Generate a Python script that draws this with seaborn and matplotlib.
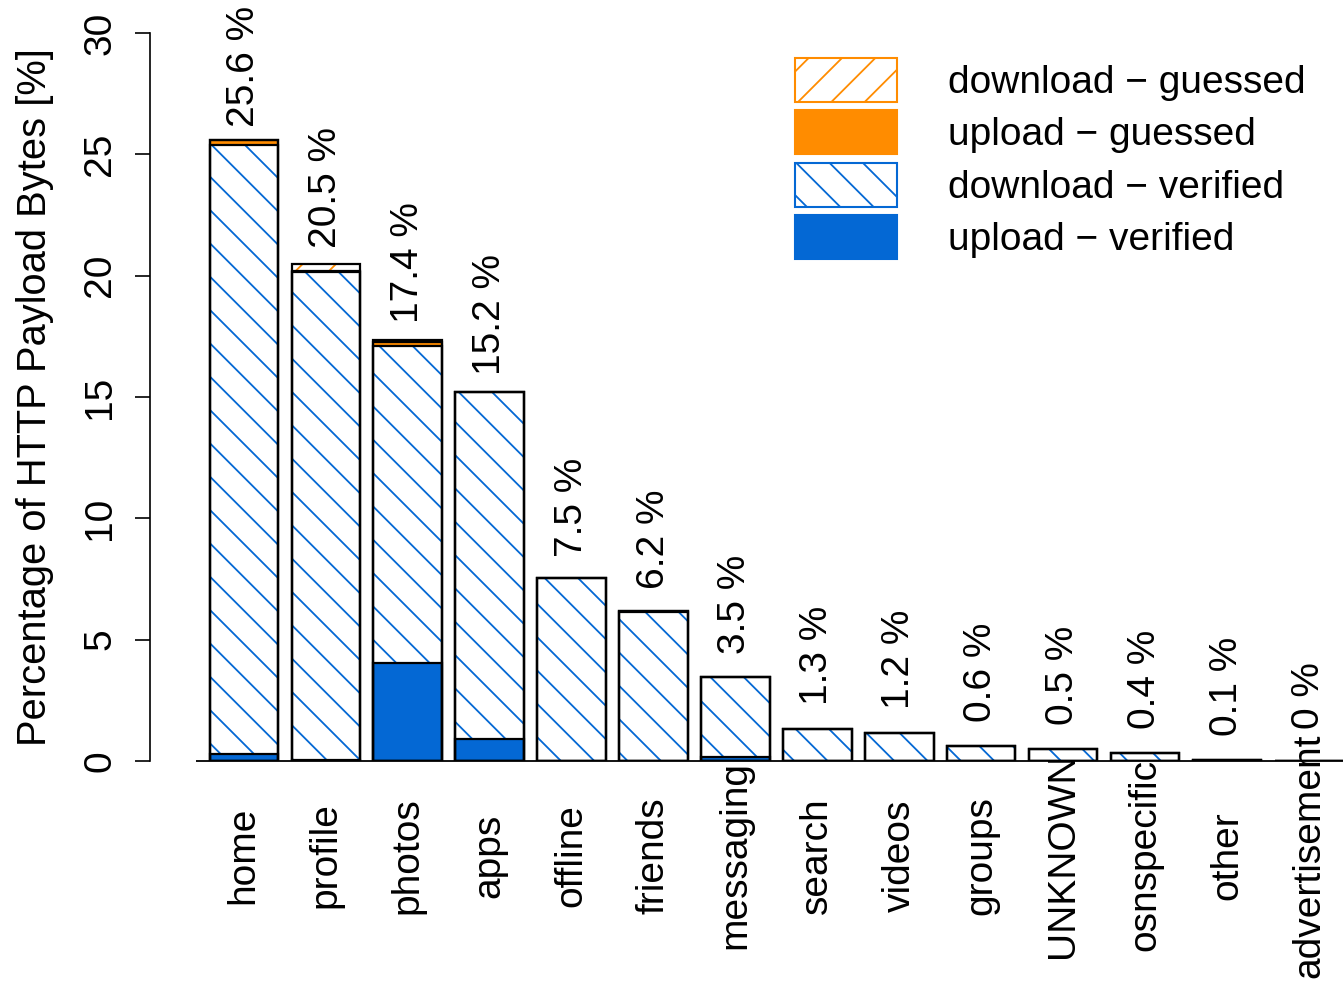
import numpy as np
import pandas as pd
import matplotlib
matplotlib.use("Agg")
import matplotlib.pyplot as plt
import matplotlib.patches as mpatches
import seaborn as sns

# ---------------- data ----------------
categories = ["home", "profile", "photos", "apps", "offline", "friends",
              "messaging", "search", "videos", "groups", "UNKNOWN",
              "osnspecific", "other", "advertisement"]
upload_verified = [0.30, 0.05, 4.05, 0.90, 0.00, 0.00, 0.15, 0.00, 0.00,
                   0.00, 0.00, 0.00, 0.00, 0.00]
download_verified = [25.10, 20.10, 13.05, 14.30, 7.55, 6.15, 3.32, 1.32,
                     1.15, 0.60, 0.49, 0.33, 0.03, 0.00]
upload_guessed = [0.20, 0.05, 0.15, 0.00, 0.00, 0.03, 0.00, 0.00, 0.00,
                  0.03, 0.00, 0.00, 0.00, 0.00]
download_guessed = [0.00, 0.30, 0.10, 0.00, 0.00, 0.00, 0.00, 0.00, 0.00,
                    0.00, 0.00, 0.00, 0.00, 0.00]
total_labels = [25.6, 20.5, 17.4, 15.2, 7.5, 6.2, 3.5, 1.3, 1.2, 0.6, 0.5,
                0.4, 0.1, 0]
legend_labels = ["download \u2212 guessed", "upload \u2212 guessed",
                 "download \u2212 verified", "upload \u2212 verified"]
yticks = [0, 5, 10, 15, 20, 25, 30]
ylabel = "Percentage of HTTP Payload Bytes [%]"

# ---------------- style ----------------
BLUE = "#0468d4"
ORANGE = "#ff8c00"
sns.set_theme(style="white")
plt.rcParams["font.family"] = ["Liberation Sans", "DejaVu Sans"]
plt.rcParams["hatch.linewidth"] = 1.3
plt.rcParams["text.color"] = "black"
FS = 28

c1 = np.array(upload_verified)
c2 = c1 + np.array(download_verified)
c3 = c2 + np.array(upload_guessed)
c4 = c3 + np.array(download_guessed)
df = pd.DataFrame({"cat": categories, "c1": c1, "c2": c2, "c3": c3, "c4": c4})

W, H = 1343, 982
fig = plt.figure(figsize=(W / 100, H / 100), dpi=100)
ax = fig.add_axes([150 / W, (H - 761) / H, 1193 / W, 728 / H])

bw = 1 / 1.2


def layer(col, color, hatch=None, fill=True):
    n0 = len(ax.patches)
    if fill:
        sns.barplot(data=df, x="cat", y=col, order=categories, color=color,
                    saturation=1, width=bw, errorbar=None, linewidth=0, ax=ax)
    else:
        sns.barplot(data=df, x="cat", y=col, order=categories, color="black",
                    fill=False, width=bw, errorbar=None, linewidth=1.6, ax=ax)
    new = ax.patches[n0:]
    for p in new:
        if fill and hatch is not None:
            p.set_facecolor("white")
            p.set_edgecolor(color)
            p.set_hatch(hatch)
            p.set_linewidth(0)
        elif not fill:
            p.set_edgecolor("black")
            p.set_facecolor("none")
            p.set_linewidth(1.6)
    return new


layer("c4", ORANGE, hatch="/")
layer("c3", ORANGE)
layer("c2", BLUE, hatch="\\")
layer("c1", BLUE)
for col in ["c4", "c3", "c2", "c1"]:
    layer(col, "black", fill=False)

# axes limits (R-like barplot geometry)
x_left = (-0.672 - 0.7) / 1.2
x_right = x_left + 1193 / (68.3 * 1.2)
ax.set_xlim(x_left, x_right)
ax.set_ylim(0, 30)

# baseline starting at R x = 0
x0 = (0 - 0.7) / 1.2
ax.hlines(0, x0, x_right + 1, color="black", linewidth=1.3, clip_on=False)

# value labels
for i, (tot, lab) in enumerate(zip(c4, total_labels)):
    off = 1.0 - 0.018 * tot + (0.3 if tot < 0.02 else 0.0)
    ax.text(i, tot + off, f"{lab:g} %", rotation=90, ha="center",
            va="bottom", fontsize=FS, color="black", clip_on=False)

# spines / ticks
for s in ["top", "right", "bottom"]:
    ax.spines[s].set_visible(False)
ax.spines["left"].set_bounds(0, 30)
ax.spines["left"].set_color("black")
ax.spines["left"].set_linewidth(1.2)
ax.set_yticks(yticks)
ax.set_yticklabels([str(t) for t in yticks], rotation=90, va="center",
                   fontsize=FS)
ax.tick_params(axis="y", direction="out", length=11, width=1.2, pad=12,
               left=True, colors="black")
ax.tick_params(axis="x", length=0, pad=68, labelsize=FS, colors="black")
for t in ax.get_xticklabels():
    t.set_rotation(90)
    t.set_va("center")
    t.set_ha("center")
ax.set_xlabel("")
ax.set_ylabel(ylabel, fontsize=28.7, color="black", va="center")
ax.yaxis.set_label_coords((35 - 150) / 1193, 0.5)

# legend
handles = [
    mpatches.Patch(facecolor="white", edgecolor=ORANGE, hatch="/",
                   linewidth=1.5),
    mpatches.Patch(facecolor=ORANGE, edgecolor=ORANGE, linewidth=1.5),
    mpatches.Patch(facecolor="white", edgecolor=BLUE, hatch="\\",
                   linewidth=1.5),
    mpatches.Patch(facecolor=BLUE, edgecolor=BLUE, linewidth=1.5),
]
fig.legend(handles, legend_labels, loc="upper left",
           bbox_to_anchor=(795 / W, 1 - 58 / H), frameon=False, fontsize=FS,
           labelcolor="black",
           borderpad=0, borderaxespad=0, handlelength=102 / 38.9,
           handleheight=1.37, labelspacing=0.21,
           handletextpad=1.31)

fig.savefig("out.png", dpi=100)
